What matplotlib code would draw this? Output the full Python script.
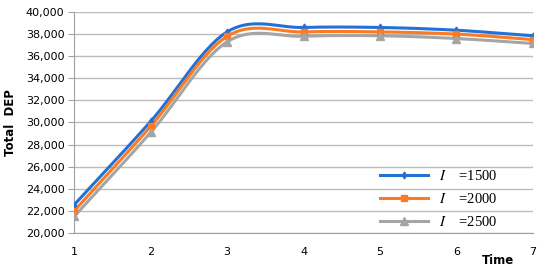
import matplotlib
matplotlib.use("Agg")
import matplotlib.pyplot as plt
import numpy as np
from matplotlib.ticker import FuncFormatter

time = [1, 2, 3, 4, 5, 6, 7]
dep_1500 = [22550, 30100, 38200, 38600, 38600, 38350, 37850]
dep_2000 = [22000, 29650, 37800, 38200, 38200, 38000, 37500]
dep_2500 = [21500, 29100, 37300, 37800, 37850, 37600, 37150]
labels = ["1500", "2000", "2500"]
colors = ["#2272d6", "#fb7a22", "#a5a5a5"]
markers = ["d", "s", "^"]
msizes = [3.5, 4.5, 5.5]


def smooth(x, y, n=30):
    # Excel-style smoothed line: cubic bezier with catmull-rom control points
    x = np.asarray(x, float)
    y = np.asarray(y, float)
    px = np.concatenate([[2 * x[0] - x[1]], x, [2 * x[-1] - x[-2]]])
    py = np.concatenate([[2 * y[0] - y[1]], y, [2 * y[-1] - y[-2]]])
    xs, ys = [], []
    t = np.linspace(0, 1, n)
    for i in range(1, len(px) - 2):
        p0 = np.array([px[i], py[i]])
        p3 = np.array([px[i + 1], py[i + 1]])
        p1 = p0 + (np.array([px[i + 1], py[i + 1]]) - np.array([px[i - 1], py[i - 1]])) / 6
        p2 = p3 - (np.array([px[i + 2], py[i + 2]]) - np.array([px[i], py[i]])) / 6
        b = ((1 - t) ** 3)[:, None] * p0 + (3 * (1 - t) ** 2 * t)[:, None] * p1 \
            + (3 * (1 - t) * t ** 2)[:, None] * p2 + (t ** 3)[:, None] * p3
        xs.extend(b[:, 0])
        ys.extend(b[:, 1])
    return xs, ys


plt.rcParams["mathtext.fontset"] = "stix"

fig = plt.figure(figsize=(5.5, 2.73), dpi=100)
ax = fig.add_axes([0.135, 0.147, 0.834, 0.809])

for series, lab, c, m, ms in zip([dep_1500, dep_2000, dep_2500], labels, colors, markers, msizes):
    sx, sy = smooth(time, series)
    ax.plot(sx, sy, color=c, lw=2.2, solid_capstyle="round", zorder=3)
    ax.plot(time, series, ls="none", marker=m, color=c, ms=ms, zorder=4)
    ax.plot([], [], color=c, lw=2.2, marker=m, ms=ms,
            label=r"$I$" + "    =" + lab)

ax.set_xlim(1, 7)
ax.set_ylim(20000, 40000)
ax.set_xticks(time)
ax.set_yticks(np.arange(20000, 40001, 2000))
ax.yaxis.set_major_formatter(FuncFormatter(lambda v, p: f"{int(v):,}"))
ax.tick_params(labelsize=8, length=0, pad=10)
ax.tick_params(axis="y", length=4, color="#a0a0a0", pad=3)
ax.grid(axis="y", color="#bcbcbc", lw=1)
ax.set_axisbelow(True)
for s in ["top", "right"]:
    ax.spines[s].set_visible(False)
for s in ["left", "bottom"]:
    ax.spines[s].set_color("#a0a0a0")

ax.set_ylabel("Total  DEP", fontsize=8.5, fontweight="bold", labelpad=6)
fig.text(0.905, 0.045, "Time", fontsize=8.5, fontweight="bold", ha="center", va="center")

leg = ax.legend(loc="lower right", bbox_to_anchor=(0.952, -0.043), frameon=False,
                prop={"family": "Liberation Serif", "size": 10.5},
                handlelength=3.3, handletextpad=0.75, labelspacing=0.62)

fig.savefig("out.png", dpi=100)
